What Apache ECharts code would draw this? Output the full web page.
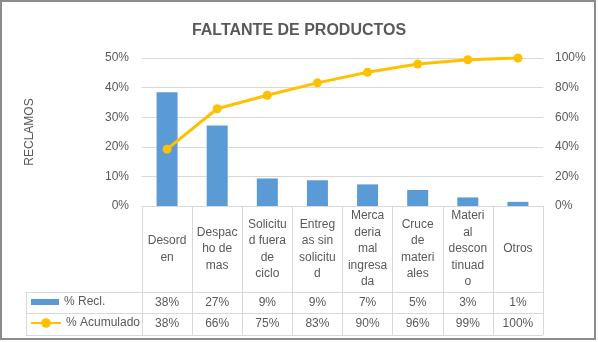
<!DOCTYPE html>
<html>
<head>
<meta charset="utf-8">
<script src="https://cdn.jsdelivr.net/npm/echarts@6/dist/echarts.min.js"></script>
<style>
  html, body { margin: 0; padding: 0; background: #fff; }
  #main { width: 598px; height: 342px; }
</style>
</head>
<body>
<div id="main"></div>
<script>
// datos del grafico
var categories = ['Desord\nen', 'Despac\nho de\nmas', 'Solicitu\nd fuera\nde\nciclo', 'Entreg\nas sin\nsolicitu\nd',
  'Merca\nderia\nmal\ningresa\nda', 'Cruce\nde\nmateri\nales', 'Materi\nal\ndescon\ntinuad\no', 'Otros']
var reclamos = [38.4, 27.2, 9.3, 8.7, 7.3, 5.4, 2.9, 1.4]
var acumulado = [38.4, 65.7, 74.8, 83.2, 90.4, 95.9, 98.8, 100]

var gris = '#595959'
var lineaTabla = '#d9d9d9'
var fuente = 'Liberation Sans'

function pct(v) { return Math.round(v) + '%' }

var chart = echarts.init(document.getElementById('main'))
var option = {
  backgroundColor: '#fff',
  animation: false,
  textStyle: { fontFamily: fuente },
  title: {
    text: 'FALTANTE DE PRODUCTOS',
    left: 'center',
    top: 18,
    textStyle: { fontSize: 16, fontWeight: 'bold', color: gris, fontFamily: fuente }
  },
  legend: [
    {
      data: ['% Recl.'],
      left: 31,
      top: 296,
      padding: 0,
      itemWidth: 28,
      itemHeight: 6,
      icon: 'rect',
      textStyle: { fontSize: 12, color: gris, fontFamily: fuente }
    },
    {
      data: ['% Acumulado'],
      left: 30,
      top: 317,
      padding: 0,
      itemWidth: 30,
      itemHeight: 12,
      textStyle: { fontSize: 12, color: gris, fontFamily: fuente }
    }
  ],
  grid: { left: 142, right: 55, top: 58, height: 148 },
  xAxis: [
    {
      type: 'category',
      data: categories,
      axisLine: { lineStyle: { color: lineaTabla } },
      axisTick: { show: true, interval: 0, length: 129, lineStyle: { color: lineaTabla } },
      axisLabel: {
        interval: 0, margin: 43, verticalAlign: 'middle', lineHeight: 16.5,
        fontSize: 12, color: gris, fontFamily: fuente
      }
    },
    {
      type: 'category',
      position: 'bottom',
      offset: 86,
      data: reclamos.map(pct),
      axisLine: { show: false },
      axisTick: { show: false },
      axisLabel: { interval: 0, margin: 10.5, verticalAlign: 'middle', fontSize: 12, color: gris, fontFamily: fuente }
    },
    {
      type: 'category',
      position: 'bottom',
      offset: 107,
      data: acumulado.map(pct),
      axisLine: { show: false },
      axisTick: { show: false },
      axisLabel: { interval: 0, margin: 11, verticalAlign: 'middle', fontSize: 12, color: gris, fontFamily: fuente }
    }
  ],
  yAxis: [
    {
      type: 'value',
      min: 0,
      max: 50,
      interval: 10,
      name: 'RECLAMOS',
      nameLocation: 'middle',
      nameGap: 106,
      nameTextStyle: { fontSize: 12, color: gris, fontFamily: fuente },
      axisLabel: { formatter: '{value}%', margin: 13, fontSize: 12, color: gris, fontFamily: fuente },
      splitLine: { lineStyle: { color: lineaTabla } }
    },
    {
      type: 'value',
      min: 0,
      max: 100,
      interval: 20,
      axisLabel: { formatter: '{value}%', margin: 12, fontSize: 12, color: gris, fontFamily: fuente },
      splitLine: { show: false }
    }
  ],
  series: [
    {
      name: '% Recl.',
      type: 'bar',
      barWidth: 21,
      data: reclamos,
      itemStyle: { color: '#5b9bd5' }
    },
    {
      name: '% Acumulado',
      type: 'line',
      yAxisIndex: 1,
      data: acumulado,
      symbol: 'circle',
      symbolSize: 9,
      lineStyle: { color: '#ffc000', width: 3 },
      itemStyle: { color: '#ffc000' }
    }
  ],
  graphic: [
    // bordes de la tabla de datos
    { type: 'line', shape: { x1: 26, y1: 292.5, x2: 543, y2: 292.5 }, style: { stroke: lineaTabla, lineWidth: 1 } },
    { type: 'line', shape: { x1: 26, y1: 313.5, x2: 543, y2: 313.5 }, style: { stroke: lineaTabla, lineWidth: 1 } },
    { type: 'line', shape: { x1: 26, y1: 335.5, x2: 543, y2: 335.5 }, style: { stroke: lineaTabla, lineWidth: 1 } },
    { type: 'line', shape: { x1: 26.5, y1: 292, x2: 26.5, y2: 336 }, style: { stroke: lineaTabla, lineWidth: 1 } },
    // marco del grafico
    { type: 'rect', shape: { x: 1, y: 1, width: 594, height: 338 }, style: { fill: 'none', stroke: '#8c8c8c', lineWidth: 2 } }
  ]
}
chart.setOption(option)
</script>
</body>
</html>
